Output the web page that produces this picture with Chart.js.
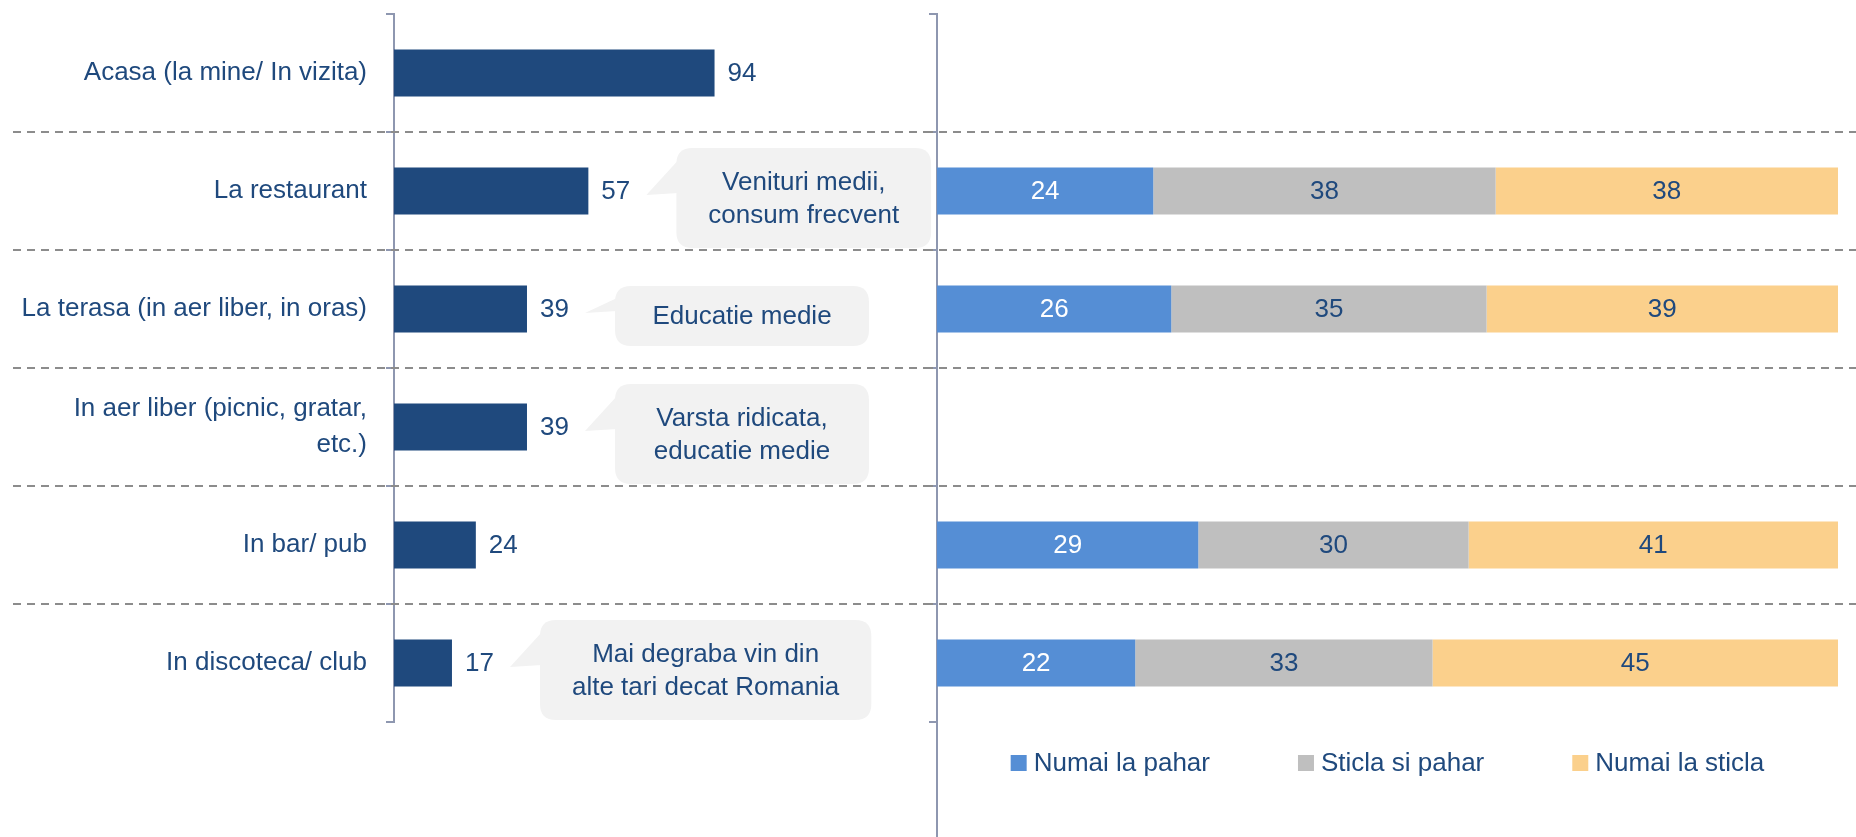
<!DOCTYPE html>
<html>
<head>
<meta charset="utf-8">
<script src="https://cdn.jsdelivr.net/npm/chart.js@4.4.1/dist/chart.umd.min.js"></script>
<style>
  html, body { margin: 0; padding: 0; background: #fff; }
  #wrap { position: relative; width: 1856px; height: 837px; overflow: hidden; }
  #left { position: absolute; left: 0; top: 0; }
  #right { position: absolute; left: 925px; top: 0; }
</style>
</head>
<body>
<div id="wrap">
  <canvas id="left" width="937" height="837"></canvas>
  <canvas id="right" width="931" height="837"></canvas>
</div>
<script>
  const categories = [
    "Acasa (la mine/ In vizita)",
    "La restaurant",
    "La terasa (in aer liber, in oras)",
    ["In aer liber (picnic, gratar,", "etc.)"],
    "In bar/ pub",
    "In discoteca/ club"
  ];
  const placeValues = [94, 57, 39, 39, 24, 17];

  const seriesNames = ["Numai la pahar", "Sticla si pahar", "Numai la sticla"];
  const glassOnly = [null, 24, 26, null, 29, 22];
  const glassAndBottle = [null, 38, 35, null, 30, 33];
  const bottleOnly = [null, 38, 39, null, 41, 45];

  const calloutRows = [1, 2, 3, 5];
  const calloutTexts = [
    ["Venituri medii,", "consum frecvent"],
    ["Educatie medie"],
    ["Varsta ridicata,", "educatie medie"],
    ["Mai degraba vin din", "alte tari decat Romania"]
  ];

  const NAVY = "#1F497D";
  const AXIS = "#8E97B0";
  const DASH = "#8C8C8C";
  const FONT = "'Liberation Sans', Arial, sans-serif";
  const FONT_SIZE = 26;
  const SERIES_COLORS = ["#558ED5", "#BFBFBF", "#FBD08C"];

  Chart.defaults.font.family = FONT;
  Chart.defaults.font.size = FONT_SIZE;
  Chart.defaults.color = NAVY;

  function font() {
    return FONT_SIZE + "px " + FONT;
  }

  // dashed separators between rows, running across the whole page width
  function rowLines(startX) {
    return {
      id: "rowLines",
      beforeDatasetsDraw(chart) {
        const y = chart.scales.y;
        const ctx = chart.ctx;
        ctx.save();
        ctx.strokeStyle = DASH;
        ctx.lineWidth = 2;
        ctx.setLineDash([8, 6]);
        for (let i = 1; i < categories.length; i++) {
          const py = Math.round((y.getPixelForValue(i - 1) + y.getPixelForValue(i)) / 2);
          ctx.beginPath();
          ctx.moveTo(startX, py);
          ctx.lineTo(chart.width, py);
          ctx.stroke();
        }
        ctx.restore();
      }
    };
  }

  const valueLabels = {
    id: "valueLabels",
    afterDatasetsDraw(chart) {
      const ctx = chart.ctx;
      const meta = chart.getDatasetMeta(0);
      ctx.save();
      ctx.font = font();
      ctx.fillStyle = NAVY;
      ctx.textAlign = "left";
      ctx.textBaseline = "middle";
      meta.data.forEach((bar, i) => {
        ctx.fillText(String(placeValues[i]), bar.x + 13, bar.y + 1);
      });
      ctx.restore();
    }
  };

  function roundRect(ctx, x, y, w, h, r) {
    ctx.moveTo(x + r, y);
    ctx.lineTo(x + w - r, y);
    ctx.quadraticCurveTo(x + w, y, x + w, y + r);
    ctx.lineTo(x + w, y + h - r);
    ctx.quadraticCurveTo(x + w, y + h, x + w - r, y + h);
    ctx.lineTo(x + r, y + h);
    ctx.quadraticCurveTo(x, y + h, x, y + h - r);
    ctx.lineTo(x, y + r);
    ctx.quadraticCurveTo(x, y, x + r, y);
  }

  const callouts = {
    id: "callouts",
    afterDraw(chart) {
      const ctx = chart.ctx;
      const xs = chart.scales.x;
      const ys = chart.scales.y;
      ctx.save();
      ctx.font = font();
      calloutRows.forEach((row, k) => {
        const lines = calloutTexts[k];
        const barEnd = xs.getPixelForValue(placeValues[row]);
        const cy = ys.getPixelForValue(row);
        const textW = Math.max(...lines.map((t) => ctx.measureText(t).width));
        const w = Math.max(textW + 64, 254);
        const h = 20 + 40 * lines.length;
        const left = barEnd + 88;
        const top = cy + 7 - h / 2;

        ctx.fillStyle = "#F2F2F2";
        ctx.beginPath();
        roundRect(ctx, left, top, w, h, 16);
        ctx.fill();
        ctx.beginPath();
        ctx.moveTo(left + 2, top + 12);
        ctx.lineTo(barEnd + 58, cy + 4);
        ctx.lineTo(left + 2, cy + 2);
        ctx.closePath();
        ctx.fill();

        ctx.fillStyle = NAVY;
        ctx.textAlign = "center";
        ctx.textBaseline = "middle";
        const lh = 33;
        const y0 = top + h / 2 - ((lines.length - 1) * lh) / 2 + 1;
        lines.forEach((t, j) => ctx.fillText(t, left + w / 2, y0 + j * lh));
      });
      ctx.restore();
    }
  };

  const segmentLabels = {
    id: "segmentLabels",
    afterDatasetsDraw(chart) {
      const ctx = chart.ctx;
      ctx.save();
      ctx.font = font();
      ctx.textAlign = "center";
      ctx.textBaseline = "middle";
      chart.data.datasets.forEach((ds, d) => {
        chart.getDatasetMeta(d).data.forEach((bar, i) => {
          const v = ds.data[i];
          if (v == null) return;
          ctx.fillStyle = d === 0 ? "#FFFFFF" : NAVY;
          ctx.fillText(String(v), (bar.x + bar.base) / 2, bar.y + 1);
        });
      });
      ctx.restore();
    }
  };

  const axisTail = {
    id: "axisTail",
    afterDraw(chart) {
      const ctx = chart.ctx;
      const a = chart.chartArea;
      ctx.save();
      ctx.strokeStyle = AXIS;
      ctx.lineWidth = 2;
      ctx.beginPath();
      ctx.moveTo(a.left, a.bottom);
      ctx.lineTo(a.left, chart.height);
      ctx.stroke();
      ctx.restore();
    }
  };

  const seriesLegend = {
    id: "seriesLegend",
    afterDraw(chart) {
      const ctx = chart.ctx;
      const a = chart.chartArea;
      const box = 16, gapText = 7, gapItem = 88;
      ctx.save();
      ctx.font = font();
      const items = chart.data.datasets.map((ds) => ({
        text: ds.label,
        color: ds.backgroundColor,
        w: ctx.measureText(ds.label).width
      }));
      const total = items.reduce((s, it) => s + box + gapText + it.w, 0) + gapItem * (items.length - 1);
      let x = (a.left + a.right) / 2 - total / 2;
      const y = a.bottom + 41;
      ctx.textAlign = "left";
      ctx.textBaseline = "middle";
      items.forEach((it) => {
        ctx.fillStyle = it.color;
        ctx.fillRect(x, y - box / 2, box, box);
        ctx.fillStyle = NAVY;
        ctx.fillText(it.text, x + box + gapText, y + 1);
        x += box + gapText + it.w + gapItem;
      });
      ctx.restore();
    }
  };

  const axisGrid = {
    offset: true,
    drawOnChartArea: false,
    drawTicks: true,
    tickLength: 8,
    color: AXIS,
    lineWidth: 2
  };

  function fixWidth(w) {
    return function (axis) {
      axis.width = w;
      axis.paddingTop = 0;
      axis.paddingBottom = 0;
    };
  }

  new Chart(document.getElementById("left"), {
    type: "bar",
    data: {
      labels: categories,
      datasets: [{
        data: placeValues,
        backgroundColor: NAVY,
        borderWidth: 0,
        categoryPercentage: 1,
        barPercentage: 0.4
      }]
    },
    options: {
      indexAxis: "y",
      responsive: false,
      animation: false,
      layout: { padding: { left: 0, top: 14, right: 202, bottom: 115 } },
      plugins: { legend: { display: false }, tooltip: { enabled: false } },
      scales: {
        x: { display: false, min: 0, max: 100 },
        y: {
          grid: axisGrid,
          border: { display: true, color: AXIS, width: 2 },
          ticks: {
            color: NAVY,
            padding: 19,
            font: { family: FONT, size: FONT_SIZE, lineHeight: 1.4 }
          },
          afterFit: fixWidth(394)
        }
      }
    },
    plugins: [rowLines(13), valueLabels, callouts]
  });

  new Chart(document.getElementById("right"), {
    type: "bar",
    data: {
      labels: categories,
      datasets: [glassOnly, glassAndBottle, bottleOnly].map((vals, i) => ({
        label: seriesNames[i],
        data: vals,
        backgroundColor: SERIES_COLORS[i],
        borderWidth: 0,
        categoryPercentage: 1,
        barPercentage: 0.4
      }))
    },
    options: {
      indexAxis: "y",
      responsive: false,
      animation: false,
      layout: { padding: { left: 0, top: 14, right: 18, bottom: 115 } },
      plugins: { legend: { display: false }, tooltip: { enabled: false } },
      scales: {
        x: { display: false, stacked: true, min: 0, max: 100 },
        y: {
          stacked: true,
          grid: axisGrid,
          border: { display: true, color: AXIS, width: 2 },
          ticks: { display: false },
          afterFit: fixWidth(12)
        }
      }
    },
    plugins: [rowLines(0), segmentLabels, axisTail, seriesLegend]
  });
</script>
</body>
</html>
